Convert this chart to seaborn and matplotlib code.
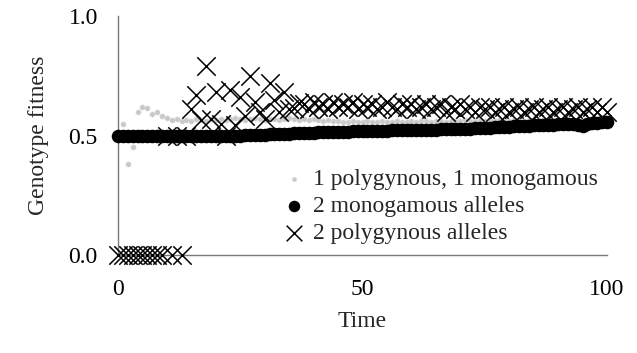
import matplotlib
matplotlib.use("Agg")
import matplotlib.pyplot as plt
import pandas as pd
import seaborn as sns

# Simulation time steps (one record per step for each genotype)
time = list(range(0, 101))

# 1 polygynous, 1 monogamous allele
fit_mixed = [
    0.50, 0.55, 0.38, 0.45, 0.60, 0.62, 0.615, 0.59, 0.60, 0.58,
    0.575, 0.565, 0.57, 0.56, 0.565, 0.56, 0.57, 0.565, 0.56, 0.57,
    0.565, 0.57, 0.565, 0.57, 0.575, 0.57, 0.565, 0.57, 0.575, 0.57,
    0.565, 0.57, 0.57, 0.565, 0.57, 0.575, 0.57, 0.565, 0.57, 0.565,
    0.57, 0.565, 0.56, 0.565, 0.56, 0.56, 0.555, 0.555, 0.56, 0.555,
    0.555, 0.56, 0.555, 0.555, 0.56, 0.555, 0.555, 0.56, 0.555, 0.555,
    0.56, 0.555, 0.56, 0.56, 0.555, 0.56, 0.56, 0.555, 0.56, 0.56,
    0.56, 0.565, 0.56, 0.56, 0.565, 0.56, 0.565, 0.56, 0.565, 0.565,
    0.56, 0.565, 0.565, 0.56, 0.565, 0.565, 0.56, 0.565, 0.565, 0.56,
    0.565, 0.565, 0.56, 0.565, 0.565, 0.56, 0.565, 0.565, 0.56, 0.565,
    0.565,
]

# 2 monogamous alleles
fit_mono = [
    0.50, 0.50, 0.50, 0.50, 0.50, 0.50, 0.50, 0.50, 0.50, 0.50,
    0.50, 0.50, 0.50, 0.50, 0.50, 0.50, 0.50, 0.50, 0.50, 0.50,
    0.50, 0.50, 0.50, 0.50, 0.50, 0.500, 0.501, 0.502, 0.502, 0.503,
    0.504, 0.505, 0.506, 0.506, 0.507, 0.508, 0.509, 0.510, 0.511, 0.511,
    0.512, 0.513, 0.513, 0.514, 0.515, 0.515, 0.516, 0.516, 0.517, 0.517,
    0.518, 0.518, 0.519, 0.519, 0.520, 0.520, 0.521, 0.521, 0.522, 0.522,
    0.523, 0.523, 0.522, 0.524, 0.525, 0.525, 0.526, 0.526, 0.527, 0.527,
    0.528, 0.528, 0.529, 0.530, 0.531, 0.532, 0.533, 0.534, 0.535, 0.536,
    0.537, 0.538, 0.539, 0.540, 0.541, 0.542, 0.543, 0.544, 0.545, 0.546,
    0.547, 0.548, 0.549, 0.550, 0.546, 0.540, 0.548, 0.552, 0.554, 0.556,
    0.557,
]

# 2 polygynous alleles
fit_poly = [
    0.0, 0.0, 0.0, 0.0, 0.0, 0.0, 0.0, 0.0, 0.0, 0.0,
    0.50, 0.0, 0.50, 0.0, 0.50, 0.61, 0.67, 0.565, 0.79, 0.57,
    0.68, 0.55, 0.50, 0.69, 0.545, 0.66, 0.58, 0.75, 0.64, 0.60,
    0.57, 0.72, 0.65, 0.60, 0.68, 0.61, 0.615, 0.635, 0.63, 0.61,
    0.64, 0.62, 0.63, 0.61, 0.64, 0.62, 0.63, 0.62, 0.64, 0.61,
    0.63, 0.62, 0.63, 0.61, 0.62, 0.64, 0.62, 0.61, 0.63, 0.62,
    0.63, 0.61, 0.62, 0.63, 0.61, 0.62, 0.63, 0.60, 0.62, 0.61,
    0.63, 0.61, 0.62, 0.60, 0.62, 0.61, 0.62, 0.60, 0.61, 0.62,
    0.60, 0.61, 0.62, 0.60, 0.61, 0.62, 0.60, 0.61, 0.62, 0.60,
    0.61, 0.62, 0.60, 0.61, 0.62, 0.60, 0.61, 0.62, 0.60, 0.62,
    0.60,
]

series_labels = ["1 polygynous, 1 monogamous", "2 monogamous alleles",
                 "2 polygynous alleles"]
x_ticks = [0, 50, 100]
x_ticklabels = ["0", "50", "100"]
y_ticks = [0.0, 0.5, 1.0]
y_ticklabels = ["0.0", "0.5", "1.0"]

df = pd.DataFrame({"Time": time, "mixed": fit_mixed,
                   "mono": fit_mono, "poly": fit_poly})

sns.set_style("white")
plt.rcParams["font.family"] = ["Liberation Serif", "DejaVu Serif"]
FS = 17

fig = plt.figure(figsize=(6.37, 3.53), dpi=100)
ax = fig.add_axes([118 / 637, 1 - 255 / 353, 489 / 637, 239 / 353])

sns.scatterplot(data=df, x="Time", y="mixed", ax=ax, marker="o", s=14,
                color="#c8c8c8", edgecolor="#dcdcdc", linewidth=0.4,
                label=series_labels[0], clip_on=False, zorder=3)
sns.scatterplot(data=df, x="Time", y="mono", ax=ax, marker="o", s=95,
                color="black", edgecolor="black", linewidth=0,
                label=series_labels[1], clip_on=False, zorder=4)
sns.scatterplot(data=df, x="Time", y="poly", ax=ax, marker="x", s=175,
                color="black", linewidth=1.1,
                label=series_labels[2], clip_on=False, zorder=5)

ax.set_xlim(0, 100)
ax.set_ylim(0, 1)
ax.set_xticks(x_ticks)
ax.set_xticklabels(x_ticklabels)
ax.set_yticks(y_ticks)
ax.set_yticklabels(y_ticklabels)

for side in ("top", "right"):
    ax.spines[side].set_visible(False)
for side in ("left", "bottom"):
    ax.spines[side].set_color("#7a7a7a")
    ax.spines[side].set_linewidth(1.0)

ax.tick_params(axis="both", direction="out", length=4.5, width=1.0,
               color="#7a7a7a", labelsize=FS, labelcolor="black")
ax.tick_params(axis="x", pad=13)
ax.tick_params(axis="y", pad=10)

ax.set_xlabel("Time", fontsize=FS, labelpad=8)
ax.set_ylabel("Genotype fitness", fontsize=FS, labelpad=14)

ax.legend(loc="center left", bbox_to_anchor=(0.335, 0.203), frameon=False,
          fontsize=FS, handlelength=1.0, handletextpad=0.3,
          labelspacing=0.24, borderpad=0, borderaxespad=0, scatterpoints=1,
          markerscale=0.85)

fig.savefig("out.png", dpi=100)
